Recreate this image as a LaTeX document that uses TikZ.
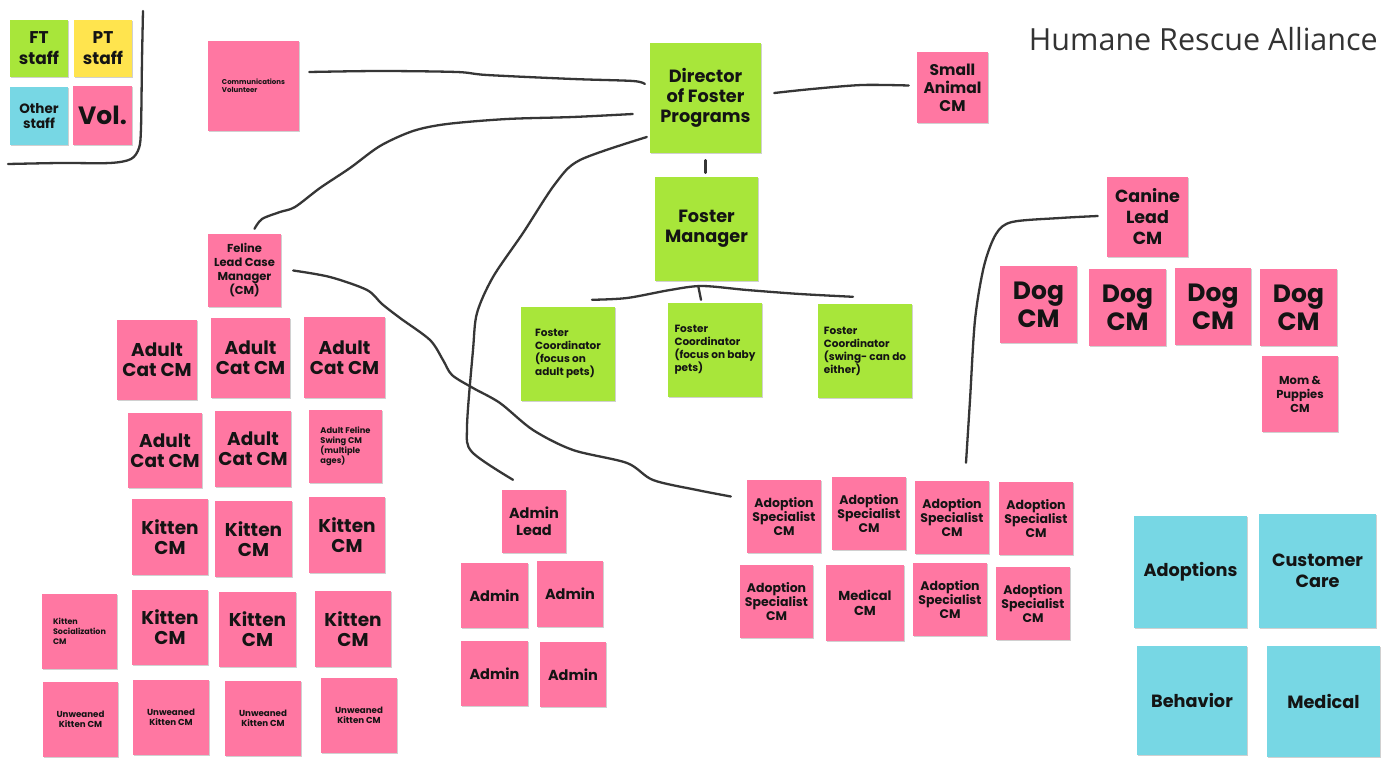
\documentclass[tikz,border=0pt]{standalone}
\usepackage{fontspec}
\newfontfamily\pop{Poppins}
\newfontfamily\ttlfont{Open Sans}
\usetikzlibrary{shadows}
\definecolor{pinkc}{HTML}{FF77A2}
\definecolor{greenc}{HTML}{A8E63A}
\definecolor{yellowc}{HTML}{FFE44E}
\definecolor{cyanc}{HTML}{77D7E4}
\definecolor{inkc}{HTML}{363636}
\definecolor{titlec}{HTML}{333333}
\newcommand\fs[2]{\fontsize{#1}{#2}\selectfont\pop\bfseries}
\newcommand\snote[7]{\node[#6,minimum width={#4-#2},minimum height={#5-#3}] (#1) at ({(#2+#4)/2},{(#3+#5)/2}) {#7};}
\tikzset{
  stickynote/.style={rectangle, inner sep=0pt, align=center, text=black!92,
    drop shadow={shadow xshift=0.6pt, shadow yshift=-1.2pt, opacity=0.3, fill=black!60}},
  pk/.style={stickynote, fill=pinkc},
  gr/.style={stickynote, fill=greenc},
  yl/.style={stickynote, fill=yellowc},
  cy/.style={stickynote, fill=cyanc},
  wire/.style={draw=inkc, line width=2.3pt, line cap=round, line join=round},
}
\begin{document}
\begin{tikzpicture}[x=1pt,y=-1pt]
\useasboundingbox[fill=white] (0,0) rectangle (1392,779);

% legend
\snote{lft}{10}{20}{68}{77}{gr,font=\fs{17}{21}}{FT\\staff}
\snote{lpt}{74}{20}{132}{77}{yl,font=\fs{17}{21}}{PT\\staff}
\snote{los}{10}{87}{68}{145}{cy,font=\fs{13.5}{15}}{Other\\staff}
\snote{lvo}{73}{86}{132}{145}{pk,font=\fs{25}{28}}{Vol.}
\draw[wire] plot[smooth, tension=0.5] coordinates {(143,11) (142,60) (141,128) (139,148) (131,159) (110,163) (60,163) (8,164)};

% title
\node[anchor=east, font=\ttlfont\fontsize{30.5}{34}\selectfont, text=titlec, inner sep=0pt] (title) at (1378,39) {Humane Rescue Alliance};

% top level
\snote{comm}{208}{41}{299}{131}{pk,font=\fs{7}{8},align=left}{Communications\\Volunteer}
\snote{dir}{650}{43}{761}{153}{gr,font=\fs{17.7}{20}}{Director\\of Foster\\Programs}
\snote{sa}{917}{52}{988}{123}{pk,font=\fs{15.5}{18}}{Small\\Animal\\CM}
\snote{fm}{655}{177}{758}{281}{gr,font=\fs{17.7}{20}}{Foster\\Manager}
\snote{can}{1107}{177}{1188}{257}{pk,font=\fs{17.5}{21}}{Canine\\Lead\\CM}
\snote{fel}{208}{234}{281}{307}{pk,font=\fs{11.5}{14}}{Feline\\Lead Case\\Manager\\(CM)}

% foster coordinators
\snote{fc1}{521}{307}{615}{401}{gr,font=\fs{10.5}{13},align=left}{Foster\\Coordinator\\(focus on\\adult pets)}
\snote{fc2}{668}{303}{762}{397}{gr,font=\fs{10.5}{13},align=left}{Foster\\Coordinator\\(focus on baby\\pets)}
\snote{fc3}{818}{304}{912}{398}{gr,font=\fs{10.5}{13},align=left}{Foster\\Coordinator\\(swing- can do\\either)}

% dogs
\snote{dog1}{1000}{266}{1077}{343}{pk,font=\fs{25}{28}}{Dog\\CM}
\snote{dog2}{1089}{269}{1166}{346}{pk,font=\fs{25}{28}}{Dog\\CM}
\snote{dog3}{1175}{268}{1251}{345}{pk,font=\fs{25}{28}}{Dog\\CM}
\snote{dog4}{1260}{269}{1337}{346}{pk,font=\fs{25}{28}}{Dog\\CM}
\snote{mom}{1262}{356}{1338}{432}{pk,font=\fs{11.5}{14}}{Mom \&\\Puppies\\CM}

% cats
\snote{a1}{117}{320}{197}{400}{pk,font=\fs{18.5}{20}}{Adult\\Cat CM}
\snote{a2}{211}{318}{290}{398}{pk,font=\fs{18.5}{20}}{Adult\\Cat CM}
\snote{a3}{304}{317}{385}{398}{pk,font=\fs{18.5}{20}}{Adult\\Cat CM}
\snote{a4}{128}{413}{202}{488}{pk,font=\fs{18.5}{20}}{Adult\\Cat CM}
\snote{a5}{215}{411}{291}{487}{pk,font=\fs{18.5}{20}}{Adult\\Cat CM}
\snote{a6}{309}{410}{382}{483}{pk,font=\fs{8.3}{10},align=left}{Adult Feline\\Swing CM\\(multiple\\ages)}
\snote{k1}{132}{499}{208}{575}{pk,font=\fs{18.5}{20}}{Kitten\\CM}
\snote{k2}{215}{501}{292}{577}{pk,font=\fs{18.5}{20}}{Kitten\\CM}
\snote{k3}{309}{497}{385}{573}{pk,font=\fs{18.5}{20}}{Kitten\\CM}
\snote{ks}{42}{594}{117}{669}{pk,font=\fs{8}{10},align=left}{Kitten\\Socialization\\CM}
\snote{k4}{132}{590}{208}{665}{pk,font=\fs{18.5}{20}}{Kitten\\CM}
\snote{k5}{219}{592}{296}{667}{pk,font=\fs{18.5}{20}}{Kitten\\CM}
\snote{k6}{315}{591}{391}{667}{pk,font=\fs{18.5}{20}}{Kitten\\CM}
\snote{u1}{43}{682}{118}{757}{pk,font=\fs{8.7}{10}}{Unweaned\\Kitten CM}
\snote{u2}{133}{680}{209}{755}{pk,font=\fs{8.7}{10}}{Unweaned\\Kitten CM}
\snote{u3}{225}{681}{301}{756}{pk,font=\fs{8.7}{10}}{Unweaned\\Kitten CM}
\snote{u4}{321}{678}{397}{753}{pk,font=\fs{8.7}{10}}{Unweaned\\Kitten CM}

% admin
\snote{al}{502}{490}{566}{553}{pk,font=\fs{14.5}{17}}{Admin\\Lead}
\snote{ad1}{461}{563}{528}{628}{pk,font=\fs{14.5}{17}}{Admin}
\snote{ad2}{537}{561}{603}{627}{pk,font=\fs{14.5}{17}}{Admin}
\snote{ad3}{461}{641}{528}{706}{pk,font=\fs{14.5}{17}}{Admin}
\snote{ad4}{540}{642}{606}{707}{pk,font=\fs{14.5}{17}}{Admin}

% adoption
\snote{as1}{747}{480}{821}{553}{pk,font=\fs{12.5}{14}}{Adoption\\Specialist\\CM}
\snote{as2}{832}{477}{906}{550}{pk,font=\fs{12.5}{14}}{Adoption\\Specialist\\CM}
\snote{as3}{915}{481}{989}{554}{pk,font=\fs{12.5}{14}}{Adoption\\Specialist\\CM}
\snote{as4}{999}{482}{1073}{555}{pk,font=\fs{12.5}{14}}{Adoption\\Specialist\\CM}
\snote{as5}{740}{565}{813}{638}{pk,font=\fs{12.5}{14}}{Adoption\\Specialist\\CM}
\snote{mcm}{826}{565}{904}{641}{pk,font=\fs{13}{15}}{Medical\\CM}
\snote{as6}{913}{563}{987}{636}{pk,font=\fs{12.5}{14}}{Adoption\\Specialist\\CM}
\snote{as7}{996}{567}{1070}{640}{pk,font=\fs{12.5}{14}}{Adoption\\Specialist\\CM}

% other staff
\snote{ado}{1134}{516}{1247}{628}{cy,font=\fs{17.7}{21}}{Adoptions}
\snote{cc}{1259}{514}{1376}{628}{cy,font=\fs{17.7}{21}}{Customer\\Care}
\snote{beh}{1137}{646}{1247}{755}{cy,font=\fs{17.7}{21}}{Behavior}
\snote{med}{1267}{646}{1380}{757}{cy,font=\fs{17.7}{21}}{Medical}

% connector end points
\coordinate (w1a) at ([shift={(10,-14)}]comm.east);
\coordinate (w1b) at ([shift={(-5,-14)}]dir.west);
\coordinate (w2a) at ([shift={(-17,16)}]dir.west);
\coordinate (w2b) at ([shift={(10,-5)}]fel.north);
\coordinate (w3a) at ([shift={(-3,39)}]dir.west);
\coordinate (w3b) at ([shift={(-21,-10)}]al.north);
\coordinate (w4a) at ([shift={(12,0)}]fel.east);
\coordinate (w4b) at ([shift={(-16,-20)}]as1.west);
\coordinate (w5a) at ([shift={(13,-5)}]dir.east);
\coordinate (w5b) at ([shift={(-8,-2)}]sa.west);
\coordinate (w6a) at ([shift={(0,7)}]dir.south);
\coordinate (w6b) at ([shift={(-1,-4)}]fm.north);
\coordinate (w7a) at ([shift={(24,-7)}]fc1.north);
\coordinate (w7b) at ([shift={(-12,-7)}]fc3.north);
\coordinate (w7t) at ([shift={(-8,6)}]fm.south);
\coordinate (w7c) at ([shift={(-14,-3)}]fc2.north);
\coordinate (w8a) at ([shift={(-9,-1)}]can.west);
\coordinate (w8b) at ([shift={(14,-18)}]as3.north);

% connectors
\draw[wire] plot[smooth, tension=0.5] coordinates {(w1a) (380,71) (457,72) (487,75) (573,79) (633,81) (w1b)};
\draw[wire] plot[smooth, tension=0.5] coordinates {(w2a) (573,117) (507,119) (447,124) (413,131) (380,146) (350,168) (320,188) (295,207) (280,212) (262,219) (w2b)};
\draw[wire] plot[smooth, tension=0.5] coordinates {(w3a) (580,160) (555,184) (523,233) (493,277) (477,313) (473,350) (467,427) (472,452) (w3b)};
\draw[wire] plot[smooth, tension=0.5] coordinates {(w4a) (330,277) (367,290) (382,304) (400,318) (430,340) (443,360) (452,375) (473,388) (500,403) (533,430) (573,450) (627,463) (653,480) (697,490) (w4b)};
\draw[wire] plot[smooth, tension=0.5] coordinates {(w5a) (812,89) (862,85) (w5b)};
\draw[wire] (w6a) -- (w6b);
\draw[wire] plot[smooth, tension=0.5] coordinates {(w7a) (627,298) (670,290) (702,286) (747,290) (800,294) (w7b)};
\draw[wire] (w7t) -- (w7c);
\draw[wire] plot[smooth, tension=0.5] coordinates {(w8a) (1060,218) (1012,222) (996,234) (984,266) (975,320) (970,400) (w8b)};
\end{tikzpicture}
\end{document}
